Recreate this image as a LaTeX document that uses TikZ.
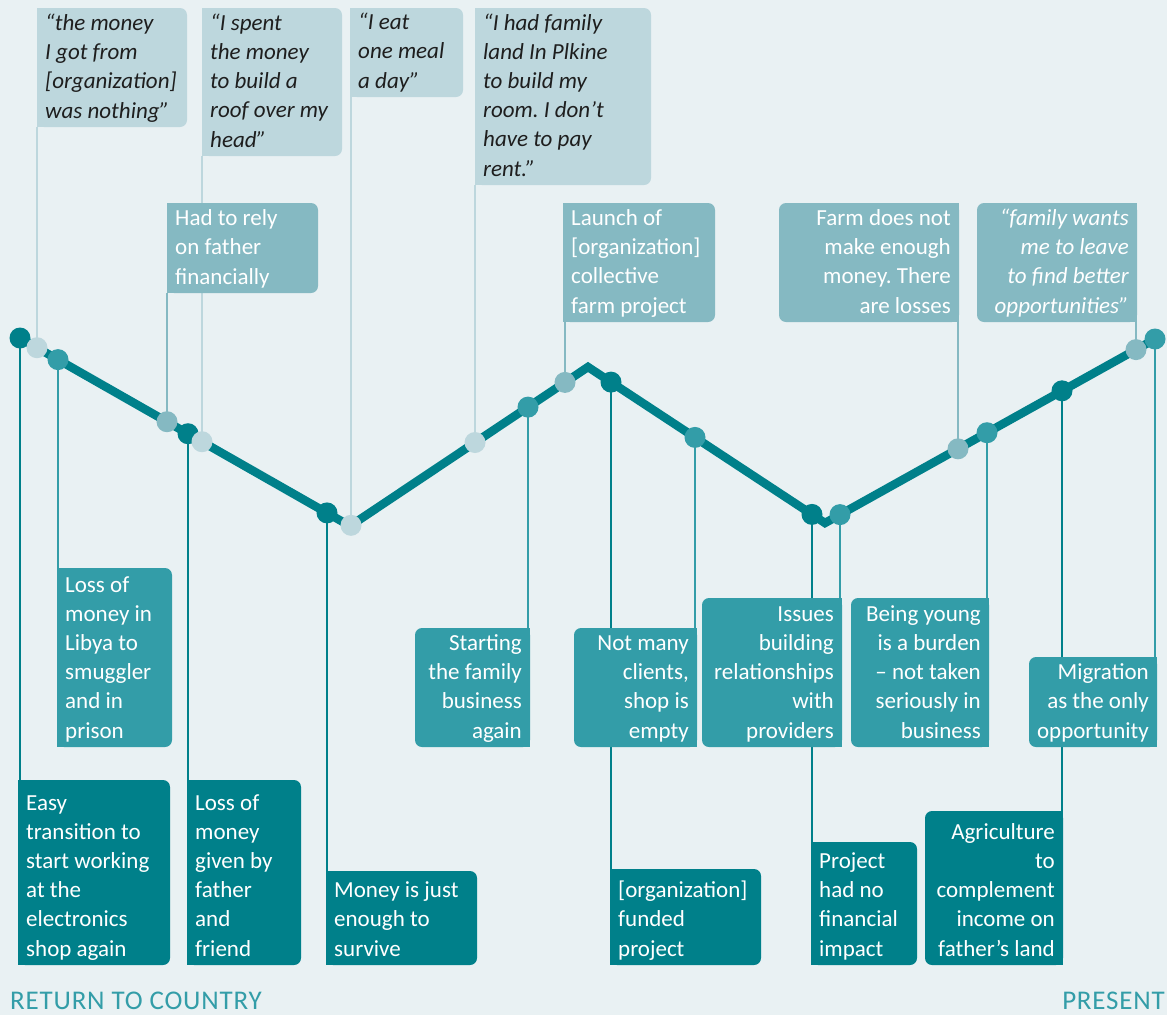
\documentclass[tikz,border=0pt]{standalone}
\usepackage{fontspec}
\setmainfont{Carlito}
\usetikzlibrary{fit}
\frenchspacing

\definecolor{bgc}{HTML}{E9F1F3}
\definecolor{tdark}{HTML}{00808A}
\definecolor{tmid}{HTML}{339DA8}
\definecolor{tlight}{HTML}{85B9C2}
\definecolor{tpale}{HTML}{BDD7DD}
\definecolor{qink}{HTML}{1E1E1E}

\pgfdeclarelayer{bg}
\pgfdeclarelayer{stems}
\pgfsetlayers{bg,stems,main}

\tikzset{
  bead/.style={circle, fill=#1, inner sep=0pt, minimum size=21pt},
  stem/.style={draw=#1, line width=2.5pt},
  cardbox/.style={inner sep=0pt, outer sep=0pt},
  txt/.style={inner sep=0pt, text=white, font=\fontsize{23}{29.2}\selectfont,
    execute at begin node=\strut, execute at end node=\strut},
  itxt/.style={txt, font=\fontsize{23}{29.2}\selectfont\itshape},
  qtxt/.style={txt, text=qink, font=\fontsize{23}{29.2}\selectfont\itshape},
  endlabel/.style={inner sep=0pt, text=tmid,
    font=\fontsize{27}{30}\selectfont\addfontfeatures{LetterSpace=3}},
}

% card: name, left, top, right, bottom, fill, sharp side (L/R), text style, text
\newcommand\card[9]{%
  \node[cardbox, fit={(#2,#3) (#4,#5)}] (#1) {};
  \fill[#6, rounded corners=7pt] (#1.north west) rectangle (#1.south east);
  \if#7L
    \fill[#6] (#1.north west) rectangle ([xshift=12pt]#1.south west);
    \node[#8, align=left, anchor=south west] at ([xshift=8pt]#1.south west) {#9};
  \else
    \fill[#6] ([xshift=-12pt]#1.north east) rectangle (#1.south east);
    \node[#8, align=right, anchor=south east] at ([xshift=-8pt]#1.south east) {#9};
  \fi}

\begin{document}
\begin{tikzpicture}[x=1pt, y=-1pt]
\useasboundingbox (0,0) rectangle (1167,1015);
\begin{pgfonlayer}{bg}
  \fill[bgc] (0,0) rectangle (1167,1015);
\end{pgfonlayer}

% quotes above the line
\card{q1}{37}{8}{187}{127}{tpale}{L}{qtxt}{“the money\\I got from\\{[organization]}\\was nothing”}
\card{q2}{202}{8}{342}{156}{tpale}{L}{qtxt}{“I spent\\the money\\to build a\\roof over my\\head”}
\card{q3}{350}{8}{463}{97}{tpale}{L}{qtxt}{“I eat\\one meal\\a day”}
\card{q4}{475}{8}{651}{185}{tpale}{L}{qtxt}{“I had family\\land In Plkine\\to build my\\room. I don’t\\have to pay\\rent.”}

% events above the line
\card{rely}{167}{203}{318}{293}{tlight}{L}{txt}{Had to rely\\on father\\financially}
\card{launch}{563}{203}{715}{322}{tlight}{L}{txt}{Launch of\\{[organization]}\\collective\\farm project}
\card{farm}{779}{203}{959}{322}{tlight}{R}{txt}{Farm does not\\make enough\\money. There\\are losses}
\card{family}{977}{203}{1137}{322}{tlight}{R}{itxt}{“family wants\\me to leave\\to find better\\opportunities”}

% events below the line
\card{libya}{57}{568}{172}{747}{tmid}{L}{txt}{Loss of\\money in\\Libya to\\smuggler\\and in\\prison}
\card{starting}{415}{628}{530}{747}{tmid}{R}{txt}{Starting\\the family\\business\\again}
\card{clients}{574}{628}{697}{747}{tmid}{R}{txt}{Not many\\clients,\\shop is\\empty}
\card{issues}{702}{598}{842}{747}{tmid}{R}{txt}{Issues\\building\\relationships\\with\\providers}
\card{young}{851}{598}{989}{747}{tmid}{R}{txt}{Being young\\is a burden\\– not taken\\seriously in\\business}
\card{migration}{1029}{657}{1157}{747}{tmid}{R}{txt}{Migration\\as the only\\opportunity}

\card{easy}{18}{780}{170}{965}{tdark}{L}{txt}{Easy\\transition to\\start working\\at the\\electronics\\shop again}
\card{given}{187}{780}{301}{965}{tdark}{L}{txt}{Loss of\\money\\given by\\father\\and\\friend}
\card{survive}{326}{871}{477}{965}{tdark}{L}{txt}{Money is just\\enough to\\survive}
\card{funded}{610}{869}{761}{965}{tdark}{L}{txt}{{[organization]}\\funded\\project}
\card{noimpact}{811}{842}{917}{965}{tdark}{L}{txt}{Project\\had no\\financial\\impact}
\card{agri}{925}{811}{1063}{965}{tdark}{R}{txt}{Agriculture\\to\\complement\\income on\\father’s land}

% the trajectory
\coordinate (v0) at (20,338);
\coordinate (v1) at (350,526);
\coordinate (v2) at (588,367);
\coordinate (v3) at (825,523);
\coordinate (v4) at (1155,339);
\draw[tdark, line width=8.5pt, line join=miter] (v0) -- (v1) -- (v2) -- (v3) -- (v4);

\node[bead=tdark]  (d1)  at (20,338)    {};
\node[bead=tpale]  (d2)  at (37,347.7)  {};
\node[bead=tmid]   (d3)  at (58,359.6)  {};
\node[bead=tlight] (d4)  at (167,421.7) {};
\node[bead=tdark]  (d5)  at (188,433.7) {};
\node[bead=tpale]  (d6)  at (202,441.7) {};
\node[bead=tdark]  (d7)  at (327,512.9) {};
\node[bead=tpale]  (d8)  at (351,525.3) {};
\node[bead=tpale]  (d9)  at (475,442.5) {};
\node[bead=tmid]   (d10) at (528,407.1) {};
\node[bead=tlight] (d11) at (565,382.4) {};
\node[bead=tdark]  (d12) at (611,382.1) {};
\node[bead=tmid]   (d13) at (695,437.4) {};
\node[bead=tdark]  (d14) at (812,514.4) {};
\node[bead=tmid]   (d15) at (840,514.6) {};
\node[bead=tlight] (d16) at (958,448.8) {};
\node[bead=tmid]   (d17) at (987,432.7) {};
\node[bead=tdark]  (d18) at (1062,390.8) {};
\node[bead=tlight] (d19) at (1136,349.6) {};
\node[bead=tmid]   (d20) at (1155,339)  {};

% stems from the beads to their cards
\begin{pgfonlayer}{stems}
  \draw[stem=tdark]  (d1.center)  -- (d1.center  |- easy.north);
  \draw[stem=tpale]  (d2.center)  -- (d2.center  |- q1.south);
  \draw[stem=tmid]   (d3.center)  -- (d3.center  |- libya.north);
  \draw[stem=tlight] (d4.center)  -- (d4.center  |- rely.south);
  \draw[stem=tdark]  (d5.center)  -- (d5.center  |- given.north);
  \draw[stem=tpale]  (d6.center)  -- (d6.center  |- q2.south);
  \draw[stem=tdark]  (d7.center)  -- (d7.center  |- survive.north);
  \draw[stem=tpale]  (d8.center)  -- (d8.center  |- q3.south);
  \draw[stem=tpale]  (d9.center)  -- (d9.center  |- q4.south);
  \draw[stem=tmid]   (d10.center) -- (d10.center |- starting.north);
  \draw[stem=tlight] (d11.center) -- (d11.center |- launch.south);
  \draw[stem=tdark]  (d12.center) -- (d12.center |- funded.north);
  \draw[stem=tmid]   (d13.center) -- (d13.center |- clients.north);
  \draw[stem=tdark]  (d14.center) -- (d14.center |- noimpact.north);
  \draw[stem=tmid]   (d15.center) -- (d15.center |- issues.north);
  \draw[stem=tlight] (d16.center) -- (d16.center |- farm.south);
  \draw[stem=tmid]   (d17.center) -- (d17.center |- young.north);
  \draw[stem=tdark]  (d18.center) -- (d18.center |- agri.north);
  \draw[stem=tlight] (d19.center) -- (d19.center |- family.south);
  \draw[stem=tmid]   (d20.center) -- (d20.center |- migration.north);
\end{pgfonlayer}

% ends of the time axis
\node[endlabel, anchor=base west] (start) at (10,1009)   {RETURN TO COUNTRY};
\node[endlabel, anchor=base east] (now)   at (1165,1009) {PRESENT};
\end{tikzpicture}
\end{document}
